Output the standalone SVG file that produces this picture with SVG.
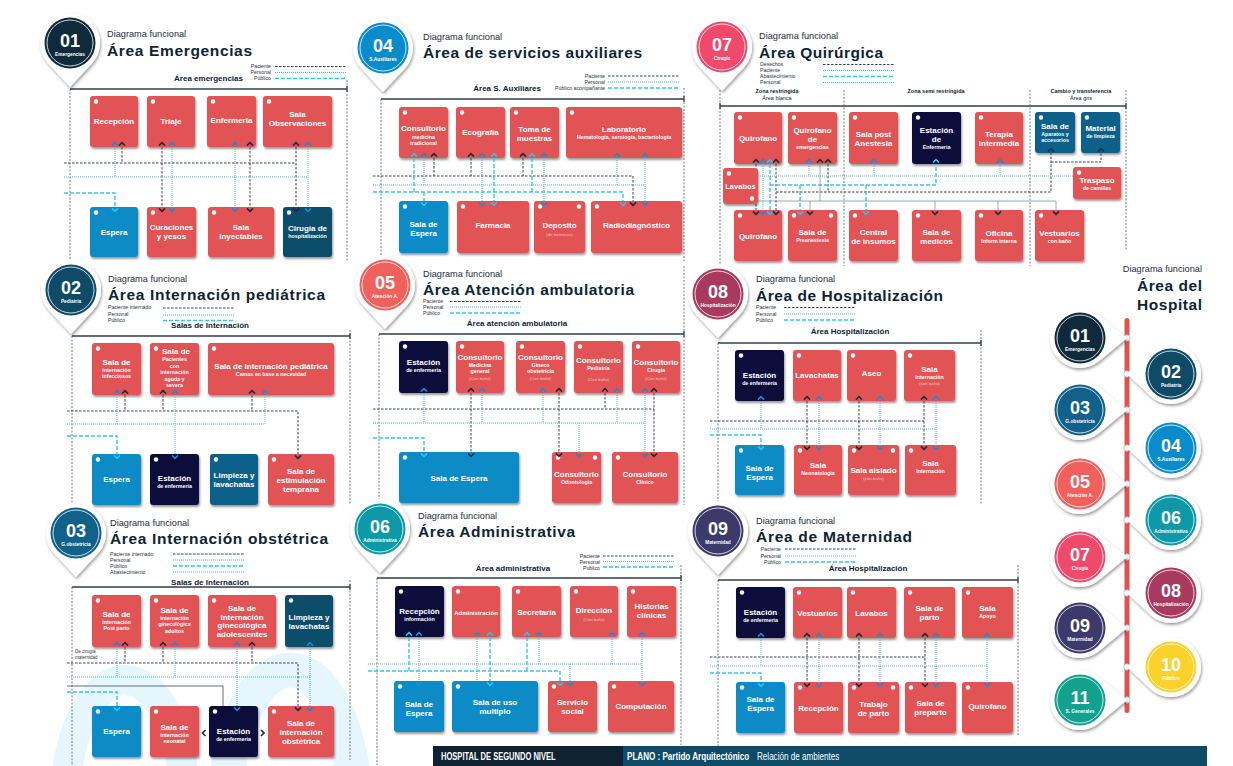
<svg xmlns="http://www.w3.org/2000/svg" xmlns:xlink="http://www.w3.org/1999/xlink" width="1233" height="766" viewBox="0 0 1233 766">
<style>
text{font-family:"Liberation Sans",Arial,sans-serif}
.dg{font-size:9.2px;fill:#1f2d3a}
.tt{font-size:15.5px;font-weight:bold;fill:#0e2433}
.lg{font-size:5.2px;fill:#2b3440}
.ar{font-size:8px;font-weight:bold;fill:#0e2433}
.zn{font-size:5.5px;font-weight:bold;fill:#0e2433;text-anchor:middle}
.zs{font-size:5.5px;fill:#0e2433;text-anchor:middle}
.l{font-weight:bold;fill:#fff;text-anchor:middle}
.m{font-size:8px}
.s{font-size:5.3px}
.x{font-size:4.3px;font-weight:normal;fill-opacity:.65}
.r{fill:#e15355}.b{fill:#0a8bc7}.n{fill:#0b0b3b}.t{fill:#0e4d6c}.t2{fill:#0e6189}
.box{filter:url(#sh)}
.dot{fill:#fff}
.tl{stroke:#2f3f4d;stroke-width:1.3;fill:none}
.vb{stroke:#4d5d6b;stroke-width:.8;stroke-dasharray:2 1.5;fill:none}
.pac{stroke:#34434f;stroke-width:1;stroke-dasharray:2.5 1.5;fill:none}
.per{stroke:#55b0e2;stroke-width:1;stroke-dasharray:1 1;fill:none}
.pub{stroke:#33c6f0;stroke-width:1.4;stroke-dasharray:4 2;fill:none}
.sol{stroke:#7d95a5;stroke-width:.8;fill:none}
.sol2{stroke:#3d4a55;stroke-width:.8;fill:none}
.cd{stroke:#1d2b3a}.cb{stroke:#1f8bd0}.cc{stroke:#2fc4ef}
.pin{fill:#fff;filter:url(#psh)}
.ring{fill:none;stroke:#fff;stroke-width:.8}
.bn{font-size:18px;font-weight:bold;fill:#fff;text-anchor:middle}
.bl{font-size:4.8px;font-weight:bold;fill:#fff;text-anchor:middle}
.deco{fill:none;stroke:#e5f6fc}
.ft{font-size:10px;fill:#fff}
</style>
<defs>
<filter id="sh" x="-15%" y="-15%" width="140%" height="145%"><feDropShadow dx="1" dy="2" stdDeviation="1.2" flood-color="#000" flood-opacity="0.4"/></filter>
<filter id="psh" x="-30%" y="-30%" width="160%" height="160%"><feDropShadow dx="1" dy="2" stdDeviation="1.6" flood-color="#000" flood-opacity="0.38"/></filter>
<path id="u" d="M-3,1.6 L0,-1.4 L3,1.6" fill="none" stroke-width="1.5"/>
<path id="d" d="M-3,-1.6 L0,1.4 L3,-1.6" fill="none" stroke-width="1.5"/>
<path id="lf" d="M1.5,-3 L-1.5,0 L1.5,3" fill="none" stroke-width="1.6"/>
<path id="rt" d="M-1.5,-3 L1.5,0 L-1.5,3" fill="none" stroke-width="1.6"/>
<path id="pinT" d="M0,44 L-21.9,20.5 A30,30 0 1 1 21.9,20.5 Z"/>
<path id="pinR" d="M47,0 L19.1,-23.1 A30,30 0 1 0 19.1,23.1 Z"/>
<path id="pinL" d="M-44,0 L-20.5,-21.9 A30,30 0 1 1 -20.5,21.9 Z"/>
</defs>
<rect width="1233" height="766" fill="#fff"/>
<g id="decor">
<ellipse class="deco" cx="125" cy="805" rx="60" ry="125" stroke-width="30"/>
<ellipse class="deco" cx="290" cy="812" rx="65" ry="142" stroke-width="35"/>
</g>

<!-- ===== Panel frames ===== -->
<g id="frame-01">
<text class="dg" x="107" y="37">Diagrama funcional</text>
<text class="tt" x="107" y="56" textLength="145">Área Emergencias</text>
<text class="lg" x="271" y="68" text-anchor="end">Paciente</text>
<text class="lg" x="271" y="74" text-anchor="end">Personal</text>
<text class="lg" x="271" y="80" text-anchor="end">Público</text>
<path class="pac" d="M275,66.5H347"/><path class="per" d="M275,72.5H347"/><path class="pub" d="M275,78.5H347"/>
<text class="ar" x="243" y="81" text-anchor="end">Área emergencias</text>
<path class="tl" d="M70,89H347M347,86V92"/>
<path class="vb" d="M70,89V262M347,80V262"/>
</g>
<g id="frame-04">
<text class="dg" x="423" y="40">Diagrama funcional</text>
<text class="tt" x="423" y="58" textLength="219">Área de servicios auxiliares</text>
<text class="lg" x="605" y="78" text-anchor="end">Paciente</text>
<text class="lg" x="605" y="84" text-anchor="end">Personal</text>
<text class="lg" x="605" y="90" text-anchor="end">Público acompañante</text>
<path class="pac" d="M608,76H680"/><path class="per" d="M608,82H680"/><path class="pub" d="M608,88H680"/>
<text class="ar" x="541" y="91" text-anchor="end">Área S. Auxiliares</text>
<path class="tl" d="M381,99H684M684,96V102"/>
<path class="vb" d="M381,99V262M684,88V262"/>
</g>
<g id="frame-07">
<text class="dg" x="759" y="39">Diagrama funcional</text>
<text class="tt" x="759" y="58" textLength="124">Área Quirúrgica</text>
<text class="lg" x="760" y="66">Desechos</text>
<text class="lg" x="760" y="72">Paciente</text>
<text class="lg" x="760" y="78">Abastecimiento</text>
<text class="lg" x="760" y="84">Personal</text>
<path class="pac" d="M823,64.5H895"/><path class="per" d="M823,70.5H895"/><path class="pub" d="M823,76.5H895"/><path class="per" d="M823,82.5H895"/>
<text class="zn" x="777" y="93">Zona restringida</text>
<text class="zs" x="777" y="100">Área blanca</text>
<text class="zn" x="936" y="93">Zona semi restringida</text>
<text class="zn" x="1081" y="93">Cambio y transferencia</text>
<text class="zs" x="1081" y="100">Área gris</text>
<path class="tl" d="M720,106H1126M720,103V109M1126,103V109"/>
<path class="vb" d="M720,90V266M844,90V266M1030,90V266M1126,90V250"/>
</g>
<g id="frame-02">
<text class="dg" x="108" y="282">Diagrama funcional</text>
<text class="tt" x="108" y="300" textLength="217">Área Internación pediátrica</text>
<text class="lg" x="108" y="309">Paciente internado</text>
<text class="lg" x="108" y="316">Personal</text>
<text class="lg" x="108" y="322">Público</text>
<path class="pac" d="M163,308H234"/><path class="per" d="M163,315H234"/><path class="pub" d="M163,320.5H234"/>
<text class="ar" x="210" y="328" text-anchor="middle">Salas de Internación</text>
<path class="tl" d="M72,336H350M350,333V339"/>
<path class="vb" d="M72,336V505M350,330V505"/>
</g>
<g id="frame-05">
<text class="dg" x="423" y="277">Diagrama funcional</text>
<text class="tt" x="423" y="295" textLength="211">Área Atención ambulatoria</text>
<text class="lg" x="423" y="303">Paciente</text>
<text class="lg" x="423" y="308.5">Personal</text>
<text class="lg" x="423" y="314.5">Público</text>
<path class="pac" d="M450,301.5H522"/><path class="per" d="M450,307H522"/><path class="pub" d="M450,313H522"/>
<text class="ar" x="517" y="326" text-anchor="middle">Área atención ambulatoria</text>
<path class="tl" d="M379,334H684M684,331V337"/>
<path class="vb" d="M379,334V505M684,266V505"/>
</g>
<g id="frame-08">
<text class="dg" x="756" y="282">Diagrama funcional</text>
<text class="tt" x="756" y="301" textLength="187">Área de Hospitalización</text>
<text class="lg" x="756" y="309">Paciente</text>
<text class="lg" x="756" y="316">Personal</text>
<text class="lg" x="756" y="322">Público</text>
<path class="pac" d="M784,307.5H856"/><path class="per" d="M784,314H856"/><path class="pub" d="M784,320H856"/>
<text class="ar" x="850" y="334" text-anchor="middle">Área Hospitalización</text>
<path class="tl" d="M718,343H981M981,340V346"/>
<path class="vb" d="M718,343V505M981,330V505"/>
</g>
<g id="frame-03">
<text class="dg" x="110" y="526">Diagrama funcional</text>
<text class="tt" x="110" y="544" textLength="218">Área Internación obstétrica</text>
<text class="lg" x="110" y="556">Paciente internado</text>
<text class="lg" x="110" y="562">Personal</text>
<text class="lg" x="110" y="568">Público</text>
<text class="lg" x="110" y="574">Abastecimiento</text>
<path class="pac" d="M173,554H245"/><path class="per" d="M173,560H245"/><path class="pub" d="M173,566H245"/><path class="per" d="M173,572H245"/>
<text class="ar" x="210" y="585" text-anchor="middle">Salas de Internación</text>
<text class="lg" x="75" y="653" style="font-size:4.5px">De cirugía</text>
<text class="lg" x="75" y="659" style="font-size:4.5px">maternidad</text>
<path class="tl" d="M72,587H350M350,584V590"/>
<path class="vb" d="M72,587V766M350,580V760"/>
</g>
<g id="frame-06">
<text class="dg" x="418" y="519">Diagrama funcional</text>
<text class="tt" x="418" y="537" textLength="157">Área Administrativa</text>
<text class="lg" x="600" y="558" text-anchor="end">Paciente</text>
<text class="lg" x="600" y="563.5" text-anchor="end">Personal</text>
<text class="lg" x="600" y="569.5" text-anchor="end">Público</text>
<path class="pac" d="M603,556H675"/><path class="per" d="M603,561.5H675"/><path class="pub" d="M603,567H675"/>
<text class="ar" x="513" y="571" text-anchor="middle">Área administrativa</text>
<path class="tl" d="M377,578H681M681,575V581"/>
<path class="vb" d="M377,578V766M681,565V745"/>
</g>
<g id="frame-09">
<text class="dg" x="756" y="524">Diagrama funcional</text>
<text class="tt" x="756" y="542" textLength="156">Área de Maternidad</text>
<text class="lg" x="781" y="551" text-anchor="end">Paciente</text>
<text class="lg" x="781" y="557.5" text-anchor="end">Personal</text>
<text class="lg" x="781" y="564" text-anchor="end">Público</text>
<path class="pac" d="M785,549H856"/><path class="per" d="M785,556H856"/><path class="pub" d="M785,562H856"/>
<text class="ar" x="868" y="571" text-anchor="middle">Área Hospitalización</text>
<path class="tl" d="M718,580H1018M1018,577V583"/>
<path class="vb" d="M718,580V766M1018,565V735"/>
</g>

<!-- ===== Panel badges ===== -->
<g id="badge-top-01" transform="translate(70,43)"><use href="#pinT" class="pin"/><circle r="25.5" fill="#0f2a3b"/><circle r="23" class="ring"/><text class="bn" y="4">01</text><text class="bl" y="13">Emergencias</text></g>
<g id="badge-top-04" transform="translate(383,48)"><use href="#pinT" class="pin"/><circle r="25.5" fill="#0a8ccc"/><circle r="23" class="ring"/><text class="bn" y="4">04</text><text class="bl" y="13">S.Auxiliares</text></g>
<g id="badge-top-07" transform="translate(722,47)"><use href="#pinT" class="pin"/><circle r="25.5" fill="#ef4a6c"/><circle r="23" class="ring"/><text class="bn" y="4">07</text><text class="bl" y="13">Cirugía</text></g>
<g id="badge-top-02" transform="translate(71,290)"><use href="#pinT" class="pin"/><circle r="25.5" fill="#0f4a66"/><circle r="23" class="ring"/><text class="bn" y="4">02</text><text class="bl" y="13">Pediatría</text></g>
<g id="badge-top-05" transform="translate(385,285)"><use href="#pinT" class="pin"/><circle r="25.5" fill="#f0605d"/><circle r="23" class="ring"/><text class="bn" y="4">05</text><text class="bl" y="13">Atención A.</text></g>
<g id="badge-top-08" transform="translate(718,294)"><use href="#pinT" class="pin"/><circle r="25.5" fill="#a8395f"/><circle r="23" class="ring"/><text class="bn" y="4">08</text><text class="bl" y="13">Hospitalización</text></g>
<g id="badge-top-03" transform="translate(76,533)"><use href="#pinT" class="pin"/><circle r="25.5" fill="#11618b"/><circle r="23" class="ring"/><text class="bn" y="4">03</text><text class="bl" y="13">G.obstetricia</text></g>
<g id="badge-top-06" transform="translate(380,529)"><use href="#pinT" class="pin"/><circle r="25.5" fill="#0e99a9"/><circle r="23" class="ring"/><text class="bn" y="4">06</text><text class="bl" y="13">Administrativa</text></g>
<g id="badge-top-09" transform="translate(718,531)"><use href="#pinT" class="pin"/><circle r="25.5" fill="#3d3a6b"/><circle r="23" class="ring"/><text class="bn" y="4">09</text><text class="bl" y="13">Maternidad</text></g>

<!-- ===== Nodes ===== -->
<g id="n01-recepcion"><rect class="box r" x="90" y="96" width="48" height="51" rx="3"/><circle class="dot" cx="96" cy="101.5" r="2.2"/><text class="l m" x="114" y="124">Recepción</text></g>
<g id="n01-triaje"><rect class="box r" x="147" y="96" width="48" height="51" rx="3"/><circle class="dot" cx="153" cy="101.5" r="2.2"/><text class="l m" x="171" y="124">Triaje</text></g>
<g id="n01-enfermeria"><rect class="box r" x="207" y="96" width="49" height="51" rx="3"/><circle class="dot" cx="213" cy="101.5" r="2.2"/><text class="l m" x="231.5" y="123">Enfermeria</text></g>
<g id="n01-observaciones"><rect class="box r" x="263" y="96" width="69" height="51" rx="3"/><circle class="dot" cx="269" cy="101.5" r="2.2"/><text class="l m" x="297.5" y="117">Sala</text><text class="l m" x="297.5" y="126">Observaciones</text></g>
<g id="n01-espera"><rect class="box b" x="90" y="207" width="48" height="50" rx="3"/><circle class="dot" cx="96" cy="212.5" r="2.2"/><text class="l m" x="114" y="235">Espera</text></g>
<g id="n01-curaciones"><rect class="box r" x="147" y="207" width="49" height="50" rx="3"/><circle class="dot" cx="153" cy="212.5" r="2.2"/><text class="l m" x="171.5" y="230">Curaciones</text><text class="l m" x="171.5" y="239">y yesos</text></g>
<g id="n01-inyectables"><rect class="box r" x="208" y="207" width="66" height="50" rx="3"/><circle class="dot" cx="214" cy="212.5" r="2.2"/><text class="l m" x="241" y="230">Sala</text><text class="l m" x="241" y="239">inyectables</text></g>
<g id="n01-cirugia"><rect class="box t" x="283" y="207" width="49" height="50" rx="3"/><circle class="dot" cx="289" cy="212.5" r="2.2"/><text class="l m" x="307.5" y="231">Cirugía de</text><text class="l s" x="307.5" y="238">hospitalización</text></g>

<g id="n04-consultorio"><rect class="box r" x="399" y="107" width="49" height="51" rx="3"/><circle class="dot" cx="405" cy="112.5" r="2.2"/><text class="l m" x="423.5" y="131">Consultorio</text><text class="l s" x="423.5" y="139">medicina</text><text class="l s" x="423.5" y="145">tradicional</text></g>
<g id="n04-ecografia"><rect class="box r" x="456" y="107" width="49" height="51" rx="3"/><circle class="dot" cx="462" cy="112.5" r="2.2"/><text class="l m" x="480.5" y="135">Ecografía</text></g>
<g id="n04-toma"><rect class="box r" x="510" y="107" width="49" height="51" rx="3"/><circle class="dot" cx="516" cy="112.5" r="2.2"/><text class="l m" x="534.5" y="132">Toma de</text><text class="l m" x="534.5" y="141">muestras</text></g>
<g id="n04-laboratorio"><rect class="box r" x="566" y="107" width="116" height="51" rx="3"/><circle class="dot" cx="572" cy="112.5" r="2.2"/><text class="l m" x="624" y="132">Laboratorio</text><text class="l s" x="624" y="139">Hematología, serología, bacteriología</text></g>
<g id="n04-espera"><rect class="box b" x="399" y="201" width="49" height="52" rx="3"/><circle class="dot" cx="405" cy="206.5" r="2.2"/><text class="l m" x="423.5" y="227">Sala de</text><text class="l m" x="423.5" y="236">Espera</text></g>
<g id="n04-farmacia"><rect class="box r" x="457" y="201" width="72" height="52" rx="3"/><circle class="dot" cx="463" cy="206.5" r="2.2"/><text class="l m" x="493" y="228">Farmacia</text></g>
<g id="n04-deposito"><rect class="box r" x="534" y="201" width="51" height="52" rx="3"/><circle class="dot" cx="540" cy="206.5" r="2.2"/><circle class="dot" cx="579" cy="206.5" r="2.2"/><text class="l m" x="559.5" y="228">Deposito</text><text class="l x" x="559.5" y="236">(de farmacos)</text></g>
<g id="n04-radio"><rect class="box r" x="591" y="201" width="91" height="52" rx="3"/><circle class="dot" cx="597" cy="206.5" r="2.2"/><text class="l m" x="636.5" y="228">Radiodiagnóstico</text></g>

<g id="n07-quirofano1"><rect class="box r" x="734" y="112" width="48" height="52" rx="3"/><circle class="dot" cx="740" cy="117.5" r="2.2"/><text class="l m" x="758" y="141">Quirofano</text></g>
<g id="n07-quirofano-emerg"><rect class="box r" x="788" y="112" width="49" height="52" rx="3"/><circle class="dot" cx="794" cy="117.5" r="2.2"/><text class="l m" x="812.5" y="133">Quirofano</text><text class="l m" x="812.5" y="142">de</text><text class="l s" x="812.5" y="149">emergencias</text></g>
<g id="n07-post-anestesia"><rect class="box r" x="849" y="112" width="49" height="52" rx="3"/><circle class="dot" cx="855" cy="117.5" r="2.2"/><text class="l m" x="873.5" y="137">Sala post</text><text class="l m" x="873.5" y="146">Anestesia</text></g>
<g id="n07-estacion"><rect class="box n" x="912" y="112" width="49" height="52" rx="3"/><circle class="dot" cx="918" cy="117.5" r="2.2"/><text class="l m" x="936.5" y="133">Estación</text><text class="l m" x="936.5" y="142">de</text><text class="l s" x="936.5" y="149">Enfermeria</text></g>
<g id="n07-terapia"><rect class="box r" x="975" y="112" width="48" height="52" rx="3"/><circle class="dot" cx="981" cy="117.5" r="2.2"/><text class="l m" x="999" y="137">Terapia</text><text class="l m" x="999" y="146">intermedia</text></g>
<g id="n07-aparatos"><rect class="box t2" x="1035" y="112" width="40" height="41" rx="3"/><circle class="dot" cx="1041" cy="117.5" r="2.2"/><text class="l m" x="1055" y="129">Sala de</text><text class="l s" x="1055" y="136">Aparatos y</text><text class="l s" x="1055" y="142">accesorios</text></g>
<g id="n07-material"><rect class="box t2" x="1081" y="112" width="39" height="41" rx="3"/><circle class="dot" cx="1087" cy="117.5" r="2.2"/><text class="l m" x="1100.5" y="131">Material</text><text class="l s" x="1100.5" y="138">de limpieza</text></g>
<g id="n07-lavabos"><rect class="box r" x="723" y="168" width="35" height="36" rx="3"/><circle class="dot" cx="729" cy="173.5" r="2.2"/><circle class="dot" cx="752" cy="198.5" r="2.2"/><text class="l" style="font-size:7.5px" x="740.5" y="189">Lavabos</text></g>
<g id="n07-traspaso"><rect class="box r" x="1073" y="167" width="48" height="32" rx="3"/><circle class="dot" cx="1079" cy="172.5" r="2.2"/><text class="l m" x="1097" y="183">Traspaso</text><text class="l s" x="1097" y="189.5">de camillas</text></g>
<g id="n07-quirofano2"><rect class="box r" x="734" y="210" width="48" height="51" rx="3"/><circle class="dot" cx="740" cy="215.5" r="2.2"/><text class="l m" x="758" y="239">Quirofano</text></g>
<g id="n07-preanestesia"><rect class="box r" x="788" y="210" width="49" height="51" rx="3"/><circle class="dot" cx="794" cy="215.5" r="2.2"/><circle class="dot" cx="831" cy="215.5" r="2.2"/><text class="l m" x="812.5" y="235">Sala de</text><text class="l s" x="812.5" y="241.5">Preanestesia</text></g>
<g id="n07-central"><rect class="box r" x="849" y="210" width="49" height="51" rx="3"/><circle class="dot" cx="855" cy="215.5" r="2.2"/><text class="l m" x="873.5" y="235">Central</text><text class="l m" x="873.5" y="244">de insumos</text></g>
<g id="n07-medicos"><rect class="box r" x="912" y="210" width="49" height="51" rx="3"/><circle class="dot" cx="918" cy="215.5" r="2.2"/><text class="l m" x="936.5" y="235">Sala de</text><text class="l m" x="936.5" y="244">medicos</text></g>
<g id="n07-oficina"><rect class="box r" x="975" y="210" width="48" height="51" rx="3"/><circle class="dot" cx="981" cy="215.5" r="2.2"/><text class="l m" x="999" y="236">Oficina</text><text class="l s" x="999" y="243">Inform interna</text></g>
<g id="n07-vestuarios"><rect class="box r" x="1035" y="210" width="49" height="51" rx="3"/><circle class="dot" cx="1041" cy="215.5" r="2.2"/><text class="l m" x="1059.5" y="236">Vestuarios</text><text class="l s" x="1059.5" y="243">con baño</text></g>

<g id="n02-infecciosos"><rect class="box r" x="92" y="343" width="49" height="52" rx="3"/><circle class="dot" cx="98" cy="348.5" r="2.2"/><text class="l m" x="116.5" y="365">Sala de</text><text class="l s" x="116.5" y="372">internación</text><text class="l s" x="116.5" y="378">infecciosos</text></g>
<g id="n02-aguda"><rect class="box r" x="150" y="343" width="49" height="52" rx="3"/><circle class="dot" cx="156" cy="348.5" r="2.2"/><text class="l m" x="176" y="354">Sala de</text><text class="l s" x="174.5" y="361">Pacientes</text><text class="l s" x="174.5" y="367.5">con</text><text class="l s" x="174.5" y="374">internación</text><text class="l s" x="174.5" y="380.5">aguda y</text><text class="l s" x="174.5" y="387">severa</text></g>
<g id="n02-pediatrica"><rect class="box r" x="208" y="343" width="126" height="52" rx="3"/><circle class="dot" cx="214" cy="348.5" r="2.2"/><text class="l m" x="271" y="369">Sala de Internación pediátrica</text><text class="l s" x="271" y="376">Camas en base a necesidad</text></g>
<g id="n02-espera"><rect class="box b" x="92" y="454" width="49" height="51" rx="3"/><circle class="dot" cx="98" cy="459.5" r="2.2"/><text class="l m" x="116.5" y="482">Espera</text></g>
<g id="n02-estacion"><rect class="box n" x="150" y="454" width="49" height="51" rx="3"/><circle class="dot" cx="156" cy="459.5" r="2.2"/><text class="l m" x="174.5" y="481">Estación</text><text class="l s" x="174.5" y="488">de enfermería</text></g>
<g id="n02-limpieza"><rect class="box t2" x="210" y="454" width="48" height="51" rx="3"/><circle class="dot" cx="216" cy="459.5" r="2.2"/><text class="l m" x="234" y="478">Limpieza y</text><text class="l m" x="234" y="487">lavachatas</text></g>
<g id="n02-estimulacion"><rect class="box r" x="268" y="454" width="66" height="51" rx="3"/><circle class="dot" cx="274" cy="459.5" r="2.2"/><text class="l m" x="301" y="474">Sala de</text><text class="l m" x="301" y="483">estimulación</text><text class="l m" x="301" y="492">temprana</text></g>

<g id="n05-estacion"><rect class="box n" x="399" y="341" width="49" height="52" rx="3"/><circle class="dot" cx="405" cy="346.5" r="2.2"/><text class="l m" x="423.5" y="365">Estación</text><text class="l s" x="423.5" y="372">de enfermería</text></g>
<g id="n05-medicina"><rect class="box r" x="456" y="341" width="48" height="52" rx="3"/><circle class="dot" cx="462" cy="346.5" r="2.2"/><text class="l m" x="480" y="360">Consultorio</text><text class="l s" x="480" y="367">Medicina</text><text class="l s" x="480" y="373">general</text><text class="l x" x="480" y="380">(Con baño)</text></g>
<g id="n05-gineco"><rect class="box r" x="516" y="341" width="49" height="52" rx="3"/><circle class="dot" cx="522" cy="346.5" r="2.2"/><text class="l m" x="540.5" y="360">Consultorio</text><text class="l s" x="540.5" y="367">Gineco</text><text class="l s" x="540.5" y="373">obstetricia</text><text class="l x" x="540.5" y="380">(Con baño)</text></g>
<g id="n05-pediatria"><rect class="box r" x="574" y="341" width="49" height="52" rx="3"/><circle class="dot" cx="580" cy="346.5" r="2.2"/><text class="l m" x="598.5" y="363">Consultorio</text><text class="l s" x="598.5" y="369.5">Pediatría</text><text class="l x" x="598.5" y="381">(Con baño)</text></g>
<g id="n05-cirugia"><rect class="box r" x="632" y="341" width="48" height="52" rx="3"/><circle class="dot" cx="638" cy="346.5" r="2.2"/><text class="l m" x="656" y="365">Consultorio</text><text class="l s" x="656" y="372">Cirugía</text><text class="l x" x="656" y="380">(Con baño)</text></g>
<g id="n05-espera"><rect class="box b" x="399" y="452" width="120" height="51" rx="3"/><circle class="dot" cx="405" cy="457.5" r="2.2"/><text class="l m" x="459" y="481">Sala de Espera</text></g>
<g id="n05-odontologia"><rect class="box r" x="552" y="452" width="49" height="51" rx="3"/><circle class="dot" cx="558" cy="457.5" r="2.2"/><circle class="dot" cx="595" cy="457.5" r="2.2"/><text class="l m" x="576.5" y="477">Consultorio</text><text class="l s" x="576.5" y="483.5">Odontología</text></g>
<g id="n05-clinico"><rect class="box r" x="612" y="452" width="66" height="51" rx="3"/><circle class="dot" cx="618" cy="457.5" r="2.2"/><text class="l m" x="645" y="477">Consultorio</text><text class="l s" x="645" y="483.5">Clínico</text></g>

<g id="n08-estacion"><rect class="box n" x="735" y="350" width="49" height="51" rx="3"/><circle class="dot" cx="741" cy="355.5" r="2.2"/><text class="l m" x="759.5" y="378">Estación</text><text class="l s" x="759.5" y="385">de enfermeria</text></g>
<g id="n08-lavachatas"><rect class="box r" x="793" y="350" width="48" height="51" rx="3"/><circle class="dot" cx="799" cy="355.5" r="2.2"/><text class="l m" x="817" y="378">Lavachatas</text></g>
<g id="n08-aseo"><rect class="box r" x="847" y="350" width="49" height="51" rx="3"/><circle class="dot" cx="853" cy="355.5" r="2.2"/><text class="l m" x="871.5" y="376">Aseo</text></g>
<g id="n08-sala-internacion1"><rect class="box r" x="904" y="350" width="51" height="51" rx="3"/><circle class="dot" cx="910" cy="355.5" r="2.2"/><text class="l m" x="929.5" y="372">Sala</text><text class="l s" x="929.5" y="378.5">Internación</text><text class="l x" x="929.5" y="385">(con baño)</text></g>
<g id="n08-espera"><rect class="box b" x="735" y="445" width="49" height="50" rx="3"/><circle class="dot" cx="741" cy="450.5" r="2.2"/><text class="l m" x="759.5" y="471">Sala de</text><text class="l m" x="759.5" y="480">Espera</text></g>
<g id="n08-neonatologia"><rect class="box r" x="794" y="445" width="48" height="50" rx="3"/><circle class="dot" cx="800" cy="450.5" r="2.2"/><text class="l m" x="818" y="468">Sala</text><text class="l s" x="818" y="475">Neonatología</text></g>
<g id="n08-aislado"><rect class="box r" x="848" y="445" width="51" height="50" rx="3"/><circle class="dot" cx="854" cy="450.5" r="2.2"/><circle class="dot" cx="893" cy="450.5" r="2.2"/><text class="l m" x="873.5" y="473">Sala aislado</text><text class="l x" x="873.5" y="480">(con baño)</text></g>
<g id="n08-sala-internacion2"><rect class="box r" x="905" y="445" width="51" height="50" rx="3"/><circle class="dot" cx="911" cy="450.5" r="2.2"/><text class="l m" x="930.5" y="466">Sala</text><text class="l s" x="930.5" y="473">Internación</text></g>

<g id="n03-postparto"><rect class="box r" x="92" y="595" width="49" height="52" rx="3"/><circle class="dot" cx="98" cy="600.5" r="2.2"/><text class="l m" x="116.5" y="617">Sala de</text><text class="l s" x="116.5" y="624">internación</text><text class="l s" x="116.5" y="630">Post parto</text></g>
<g id="n03-adultos"><rect class="box r" x="150" y="595" width="49" height="52" rx="3"/><circle class="dot" cx="156" cy="600.5" r="2.2"/><text class="l m" x="174.5" y="613">Sala de</text><text class="l s" x="174.5" y="619.5">internación</text><text class="l s" x="174.5" y="626">ginecológica</text><text class="l s" x="174.5" y="632.5">adultos</text></g>
<g id="n03-adolescentes"><rect class="box r" x="208" y="595" width="68" height="52" rx="3"/><circle class="dot" cx="214" cy="600.5" r="2.2"/><text class="l m" x="242" y="611">Sala de</text><text class="l m" x="242" y="619.5">internación</text><text class="l m" x="242" y="628">ginecológica</text><text class="l m" x="242" y="636.5">adolescentes</text></g>
<g id="n03-limpieza"><rect class="box t" x="285" y="595" width="48" height="52" rx="3"/><circle class="dot" cx="291" cy="600.5" r="2.2"/><text class="l m" x="309" y="620">Limpieza y</text><text class="l m" x="309" y="629">lavachatas</text></g>
<g id="n03-espera"><rect class="box b" x="92" y="706" width="49" height="51" rx="3"/><circle class="dot" cx="98" cy="711.5" r="2.2"/><text class="l m" x="116.5" y="734">Espera</text></g>
<g id="n03-neonatal"><rect class="box r" x="150" y="706" width="49" height="51" rx="3"/><circle class="dot" cx="156" cy="711.5" r="2.2"/><text class="l m" x="174.5" y="730">Sala de</text><text class="l s" x="174.5" y="736.5">internación</text><text class="l s" x="174.5" y="743">neonatal</text></g>
<g id="n03-estacion"><rect class="box n" x="209" y="706" width="49" height="51" rx="3"/><circle class="dot" cx="215" cy="711.5" r="2.2"/><text class="l m" x="233.5" y="734">Estación</text><text class="l s" x="233.5" y="740.5">de enfermería</text></g>
<g id="n03-obstetrica"><rect class="box r" x="268" y="706" width="66" height="51" rx="3"/><circle class="dot" cx="274" cy="711.5" r="2.2"/><text class="l m" x="301" y="726">Sala de</text><text class="l m" x="301" y="735">internación</text><text class="l m" x="301" y="744">obstétrica</text></g>

<g id="n06-recepcion"><rect class="box n" x="395" y="586" width="49" height="51" rx="3"/><circle class="dot" cx="401" cy="591.5" r="2.2"/><text class="l m" x="419.5" y="614">Recepción</text><text class="l s" x="419.5" y="621">información</text></g>
<g id="n06-administracion"><rect class="box r" x="452" y="586" width="48" height="51" rx="3"/><circle class="dot" cx="458" cy="591.5" r="2.2"/><text class="l" style="font-size:6px" x="476" y="615">Administración</text></g>
<g id="n06-secretaria"><rect class="box r" x="512" y="586" width="49" height="51" rx="3"/><circle class="dot" cx="518" cy="591.5" r="2.2"/><text class="l m" x="536.5" y="615">Secretaria</text></g>
<g id="n06-direccion"><rect class="box r" x="570" y="586" width="48" height="51" rx="3"/><circle class="dot" cx="576" cy="591.5" r="2.2"/><text class="l m" x="594" y="613">Dirección</text><text class="l x" x="594" y="621">(Con baño)</text></g>
<g id="n06-historias"><rect class="box r" x="627" y="586" width="49" height="51" rx="3"/><circle class="dot" cx="633" cy="591.5" r="2.2"/><text class="l m" x="651.5" y="609">Historias</text><text class="l m" x="651.5" y="618">clínicas</text></g>
<g id="n06-espera"><rect class="box b" x="394" y="681" width="50" height="51" rx="3"/><circle class="dot" cx="400" cy="686.5" r="2.2"/><text class="l m" x="419" y="707">Sala de</text><text class="l m" x="419" y="716">Espera</text></g>
<g id="n06-multiplo"><rect class="box b" x="452" y="681" width="86" height="51" rx="3"/><circle class="dot" cx="458" cy="686.5" r="2.2"/><text class="l m" x="495" y="705">Sala de uso</text><text class="l m" x="495" y="714">multiplo</text></g>
<g id="n06-servicio"><rect class="box r" x="548" y="681" width="49" height="51" rx="3"/><circle class="dot" cx="554" cy="686.5" r="2.2"/><text class="l m" x="572.5" y="705">Servicio</text><text class="l m" x="572.5" y="714">social</text></g>
<g id="n06-computacion"><rect class="box r" x="608" y="681" width="66" height="51" rx="3"/><circle class="dot" cx="614" cy="686.5" r="2.2"/><text class="l m" x="641" y="709">Computación</text></g>

<g id="n09-estacion"><rect class="box n" x="736" y="587" width="49" height="51" rx="3"/><circle class="dot" cx="742" cy="592.5" r="2.2"/><text class="l m" x="760.5" y="615">Estación</text><text class="l s" x="760.5" y="622">de enfermeria</text></g>
<g id="n09-vestuarios"><rect class="box r" x="793" y="587" width="49" height="51" rx="3"/><circle class="dot" cx="799" cy="592.5" r="2.2"/><text class="l m" x="817.5" y="616">Vestuarios</text></g>
<g id="n09-lavabos"><rect class="box r" x="847" y="587" width="49" height="51" rx="3"/><circle class="dot" cx="853" cy="592.5" r="2.2"/><text class="l m" x="871.5" y="616">Lavabos</text></g>
<g id="n09-sala-parto"><rect class="box r" x="904" y="587" width="51" height="51" rx="3"/><circle class="dot" cx="910" cy="592.5" r="2.2"/><text class="l m" x="929.5" y="611">Sala de</text><text class="l m" x="929.5" y="620">parto</text></g>
<g id="n09-apoyo"><rect class="box r" x="962" y="587" width="51" height="51" rx="3"/><circle class="dot" cx="968" cy="592.5" r="2.2"/><text class="l m" x="987.5" y="611">Sala</text><text class="l s" x="987.5" y="618">Apoyo</text></g>
<g id="n09-espera"><rect class="box b" x="736" y="682" width="49" height="51" rx="3"/><circle class="dot" cx="742" cy="687.5" r="2.2"/><text class="l m" x="760.5" y="702">Sala de</text><text class="l m" x="760.5" y="711">Espera</text></g>
<g id="n09-recepcion"><rect class="box r" x="794" y="682" width="49" height="51" rx="3"/><circle class="dot" cx="800" cy="687.5" r="2.2"/><text class="l m" x="818.5" y="711">Recepción</text></g>
<g id="n09-trabajo"><rect class="box r" x="848" y="682" width="51" height="51" rx="3"/><circle class="dot" cx="854" cy="687.5" r="2.2"/><circle class="dot" cx="893" cy="687.5" r="2.2"/><text class="l m" x="873.5" y="707">Trabajo</text><text class="l m" x="873.5" y="716">de parto</text></g>
<g id="n09-preparto"><rect class="box r" x="905" y="682" width="51" height="51" rx="3"/><circle class="dot" cx="911" cy="687.5" r="2.2"/><text class="l m" x="930.5" y="706">Sala de</text><text class="l m" x="930.5" y="715">preparto</text></g>
<g id="n09-quirofano"><rect class="box r" x="962" y="682" width="51" height="51" rx="3"/><circle class="dot" cx="968" cy="687.5" r="2.2"/><text class="l m" x="987.5" y="709">Quirofano</text></g>

<!-- ===== Connectors ===== -->
<g id="connectors">
<g id="c01">
<path class="pac" d="M64,163H296M122,147V163M296,147V207M162,147V207M250,147V207"/>
<path class="per" d="M64,177H308M115,147V177M308,147V207M172,147V207M235,147V207"/>
<path class="pub" d="M64,193H115V207"/>
<use href="#u" x="115" y="144" class="cb"/><use href="#u" x="122" y="144" class="cd"/><use href="#u" x="162" y="144" class="cd"/><use href="#u" x="172" y="144" class="cb"/><use href="#u" x="235" y="144" class="cb"/><use href="#u" x="250" y="144" class="cd"/><use href="#u" x="296" y="144" class="cd"/><use href="#u" x="308" y="144" class="cb"/>
<use href="#d" x="115" y="210" class="cc"/><use href="#d" x="162" y="210" class="cd"/><use href="#d" x="172" y="210" class="cb"/><use href="#d" x="235" y="210" class="cb"/><use href="#d" x="250" y="210" class="cd"/><use href="#d" x="296" y="210" class="cd"/><use href="#d" x="308" y="210" class="cb"/>
</g>
<g id="c04">
<path class="pac" d="M373,176H633V201M434,158V176M471,158V176M523,158V176"/>
<path class="per" d="M373,185H645M424,158V185M617,158V185M645,158V201M482,158V201M544,158V201"/>
<path class="pub" d="M373,192H623V201M414,158V192M532,158V192M424,192V201M494,158V201"/>
<use href="#u" x="414" y="155" class="cc"/><use href="#u" x="424" y="155" class="cb"/><use href="#u" x="434" y="155" class="cd"/><use href="#u" x="471" y="155" class="cd"/><use href="#u" x="482" y="155" class="cb"/><use href="#u" x="494" y="155" class="cc"/><use href="#u" x="523" y="155" class="cd"/><use href="#u" x="532" y="155" class="cc"/><use href="#u" x="544" y="155" class="cb"/><use href="#u" x="617" y="155" class="cb"/><use href="#u" x="645" y="155" class="cb"/>
<use href="#d" x="424" y="204" class="cc"/><use href="#d" x="482" y="204" class="cb"/><use href="#d" x="494" y="204" class="cc"/><use href="#d" x="544" y="204" class="cb"/><use href="#d" x="623" y="204" class="cc"/><use href="#d" x="633" y="204" class="cd"/><use href="#d" x="645" y="204" class="cb"/>
</g>
<g id="c07">
<path class="pac" d="M756,164V168M756,204V210M776,164V210M776,192H1051V153M1051,162H1101V153M828,164V192"/>
<path class="per" d="M758,176H1073M763,164V210M809,164V176M874,164V176M1000,164V176"/>
<path class="pub" d="M770,164V210M770,185H936V164M866,185V210M800,185V210"/>
<path class="sol" d="M758,201H1056V210M935,201V210M998,201V210M820,164V201M810,201V210"/>
<use href="#u" x="756" y="161" class="cd"/><use href="#u" x="763" y="161" class="cb"/><use href="#u" x="770" y="161" class="cc"/><use href="#u" x="776" y="161" class="cd"/><use href="#u" x="809" y="161" class="cb"/><use href="#u" x="820" y="161" class="cd"/><use href="#u" x="828" y="161" class="cd"/><use href="#u" x="874" y="161" class="cb"/><use href="#u" x="936" y="161" class="cc"/><use href="#u" x="1000" y="161" class="cb"/><use href="#u" x="1051" y="150" class="cd"/><use href="#u" x="1101" y="150" class="cd"/>
<use href="#d" x="756" y="213" class="cd"/><use href="#d" x="763" y="213" class="cb"/><use href="#d" x="770" y="213" class="cc"/><use href="#d" x="776" y="213" class="cd"/><use href="#d" x="800" y="213" class="cc"/><use href="#d" x="810" y="213" class="cd"/><use href="#d" x="866" y="213" class="cc"/><use href="#d" x="935" y="213" class="cd"/><use href="#d" x="998" y="213" class="cd"/><use href="#d" x="1056" y="213" class="cd"/>
</g>
<g id="c02">
<path class="pac" d="M67,411H298V454M125,395V411M163,395V411M252,395V411"/>
<path class="per" d="M67,424H265V395M117,395V424M175,395V454"/>
<path class="pub" d="M67,436H117V454"/>
<use href="#u" x="117" y="392" class="cb"/><use href="#u" x="125" y="392" class="cd"/><use href="#u" x="163" y="392" class="cd"/><use href="#u" x="175" y="392" class="cb"/><use href="#u" x="252" y="392" class="cd"/><use href="#u" x="265" y="392" class="cb"/>
<use href="#d" x="117" y="457" class="cc"/><use href="#d" x="175" y="457" class="cb"/><use href="#d" x="298" y="457" class="cd"/>
</g>
<g id="c05">
<path class="pac" d="M373,409H654M605,393V409M471,393V452M559,393V452M654,393V452"/>
<path class="per" d="M373,423H645M424,393V423M482,393V423M543,393V423M617,393V423M645,393V452M579,423V452"/>
<path class="pub" d="M373,438H424V452"/>
<use href="#u" x="424" y="390" class="cb"/><use href="#u" x="471" y="390" class="cd"/><use href="#u" x="482" y="390" class="cb"/><use href="#u" x="543" y="390" class="cb"/><use href="#u" x="559" y="390" class="cd"/><use href="#u" x="605" y="390" class="cd"/><use href="#u" x="617" y="390" class="cb"/><use href="#u" x="645" y="390" class="cb"/><use href="#u" x="654" y="390" class="cd"/>
<use href="#d" x="424" y="455" class="cc"/><use href="#d" x="471" y="455" class="cd"/><use href="#d" x="559" y="455" class="cd"/><use href="#d" x="579" y="455" class="cb"/><use href="#d" x="645" y="455" class="cb"/><use href="#d" x="654" y="455" class="cd"/>
</g>
<g id="c08">
<path class="pac" d="M710,421H924M807,401V445M859,401V445M924,401V445"/>
<path class="per" d="M710,429H936M761,401V429M819,401V445M880,401V445M936,401V445"/>
<path class="pub" d="M710,435H761V445"/>
<use href="#u" x="761" y="398" class="cb"/><use href="#u" x="807" y="398" class="cd"/><use href="#u" x="819" y="398" class="cb"/><use href="#u" x="859" y="398" class="cd"/><use href="#u" x="880" y="398" class="cb"/><use href="#u" x="924" y="398" class="cd"/><use href="#u" x="936" y="398" class="cb"/>
<use href="#d" x="761" y="448" class="cc"/><use href="#d" x="807" y="448" class="cd"/><use href="#d" x="819" y="448" class="cb"/><use href="#d" x="859" y="448" class="cd"/><use href="#d" x="880" y="448" class="cb"/><use href="#d" x="924" y="448" class="cd"/><use href="#d" x="936" y="448" class="cb"/>
</g>
<g id="c03">
<path class="pac" d="M67,663H298V706M125,647V663M163,647V663M252,647V663"/>
<path class="per" d="M67,677H310M117,647V677M175,647V677M310,647V706M237,647V706"/>
<path class="sol2" d="M67,686H223V706"/>
<path class="pub" d="M67,692H117V706"/>
<use href="#u" x="117" y="644" class="cb"/><use href="#u" x="125" y="644" class="cd"/><use href="#u" x="163" y="644" class="cd"/><use href="#u" x="175" y="644" class="cb"/><use href="#u" x="237" y="644" class="cb"/><use href="#u" x="252" y="644" class="cd"/><use href="#u" x="310" y="644" class="cb"/>
<use href="#d" x="117" y="709" class="cc"/><use href="#d" x="237" y="709" class="cb"/><use href="#d" x="298" y="709" class="cd"/><use href="#d" x="310" y="709" class="cb"/>
<use href="#lf" x="204" y="733" class="cd"/><use href="#rt" x="262.5" y="733" class="cd"/>
</g>
<g id="c06">
<path class="per" d="M368,664H642M419,637V681M477,637V681M539,637V664M612,637V664M642,637V681M570,664V681"/>
<path class="pub" d="M368,671H560V681M409,637V671M490,637V681M527,637V671"/>
<use href="#u" x="409" y="634" class="cc"/><use href="#u" x="419" y="634" class="cb"/><use href="#u" x="477" y="634" class="cb"/><use href="#u" x="490" y="634" class="cc"/><use href="#u" x="527" y="634" class="cc"/><use href="#u" x="539" y="634" class="cb"/><use href="#u" x="612" y="634" class="cb"/><use href="#u" x="642" y="634" class="cb"/>
<use href="#d" x="419" y="684" class="cb"/><use href="#d" x="490" y="684" class="cc"/><use href="#d" x="560" y="684" class="cc"/><use href="#d" x="570" y="684" class="cb"/><use href="#d" x="642" y="684" class="cb"/>
</g>
<g id="c09">
<path class="pac" d="M710,657H925M807,638V682M859,638V682M925,638V682"/>
<path class="per" d="M710,666H987M761,638V666M819,638V682M880,638V682M936,638V682M987,638V682"/>
<path class="pub" d="M710,673H761V682"/>
<use href="#u" x="761" y="635" class="cb"/><use href="#u" x="807" y="635" class="cd"/><use href="#u" x="819" y="635" class="cb"/><use href="#u" x="859" y="635" class="cd"/><use href="#u" x="880" y="635" class="cb"/><use href="#u" x="925" y="635" class="cd"/><use href="#u" x="936" y="635" class="cb"/><use href="#u" x="987" y="635" class="cb"/>
<use href="#d" x="761" y="685" class="cc"/><use href="#d" x="807" y="685" class="cd"/><use href="#d" x="819" y="685" class="cb"/><use href="#d" x="859" y="685" class="cd"/><use href="#d" x="880" y="685" class="cb"/><use href="#d" x="925" y="685" class="cd"/><use href="#d" x="936" y="685" class="cb"/><use href="#d" x="987" y="685" class="cb"/>
</g>
</g>

<!-- ===== Right column: Área del Hospital ===== -->
<g id="hospital-title">
<text class="dg" x="1202" y="272" text-anchor="end">Diagrama funcional</text>
<text class="tt" x="1202" y="291" text-anchor="end" textLength="65">Área del</text>
<text class="tt" x="1202" y="310" text-anchor="end" textLength="65">Hospital</text>
</g>
<g id="timeline">
<rect x="1124.5" y="318" width="5" height="395" rx="2.5" fill="#e05252"/>
<g fill="#fff" stroke="#b9b9b9" stroke-width=".8">
<circle cx="1127" cy="338" r="3.2"/><circle cx="1127" cy="374" r="3.2"/><circle cx="1127" cy="410" r="3.2"/><circle cx="1127" cy="448" r="3.2"/><circle cx="1127" cy="484" r="3.2"/><circle cx="1127" cy="520" r="3.2"/><circle cx="1127" cy="557" r="3.2"/><circle cx="1127" cy="593" r="3.2"/><circle cx="1127" cy="628" r="3.2"/><circle cx="1127" cy="667" r="3.2"/><circle cx="1127" cy="700" r="3.2"/>
</g>
</g>
<g id="badge-01" transform="translate(1080,338)"><use href="#pinR" class="pin"/><circle r="25.5" fill="#0f2a3b"/><circle r="23" class="ring"/><text class="bn" y="4">01</text><text class="bl" y="13">Emergencias</text></g>
<g id="badge-02" transform="translate(1171,374)"><use href="#pinL" class="pin"/><circle r="25.5" fill="#0f4a66"/><circle r="23" class="ring"/><text class="bn" y="4">02</text><text class="bl" y="13">Pediatría</text></g>
<g id="badge-03" transform="translate(1080,410)"><use href="#pinR" class="pin"/><circle r="25.5" fill="#11618b"/><circle r="23" class="ring"/><text class="bn" y="4">03</text><text class="bl" y="13">G.obstetricia</text></g>
<g id="badge-04" transform="translate(1171,448)"><use href="#pinL" class="pin"/><circle r="25.5" fill="#0a8ccc"/><circle r="23" class="ring"/><text class="bn" y="4">04</text><text class="bl" y="13">S.Auxiliares</text></g>
<g id="badge-05" transform="translate(1080,484)"><use href="#pinR" class="pin"/><circle r="25.5" fill="#f0605d"/><circle r="23" class="ring"/><text class="bn" y="4">05</text><text class="bl" y="13">Atención A.</text></g>
<g id="badge-06" transform="translate(1171,520)"><use href="#pinL" class="pin"/><circle r="25.5" fill="#0e99a9"/><circle r="23" class="ring"/><text class="bn" y="4">06</text><text class="bl" y="13">Administrativa</text></g>
<g id="badge-07" transform="translate(1080,557)"><use href="#pinR" class="pin"/><circle r="25.5" fill="#ef4a6c"/><circle r="23" class="ring"/><text class="bn" y="4">07</text><text class="bl" y="13">Cirugía</text></g>
<g id="badge-08" transform="translate(1171,593)"><use href="#pinL" class="pin"/><circle r="25.5" fill="#a8395f"/><circle r="23" class="ring"/><text class="bn" y="4">08</text><text class="bl" y="13">Hospitalización</text></g>
<g id="badge-09" transform="translate(1080,628)"><use href="#pinR" class="pin"/><circle r="25.5" fill="#3d3a6b"/><circle r="23" class="ring"/><text class="bn" y="4">09</text><text class="bl" y="13">Maternidad</text></g>
<g id="badge-10" transform="translate(1171,667)"><use href="#pinL" class="pin"/><circle r="25.5" fill="#fbd12b"/><circle r="23" class="ring"/><text class="bn" y="4">10</text><text class="bl" y="13">Público</text></g>
<g id="badge-11" transform="translate(1080,700)"><use href="#pinR" class="pin"/><circle r="25.5" fill="#12a18d"/><circle r="23" class="ring"/><text class="bn" y="4">11</text><text class="bl" y="13">S. Generales</text></g>

<!-- ===== Bottom bar ===== -->
<g id="footer">
<rect x="433" y="746" width="190" height="20" fill="#0f2231"/>
<rect x="623" y="746" width="584" height="20" fill="#0d4b67"/>
<text class="ft" font-weight="bold" transform="translate(441,760) scale(0.755,1)">HOSPITAL DE SEGUNDO NIVEL</text>
<text class="ft" font-weight="bold" transform="translate(627,760) scale(0.81,1)">PLANO : Partido Arquitectónico</text>
<text class="ft" transform="translate(757,760) scale(0.81,1)">Relación de ambientes</text>
</g>
</svg>
